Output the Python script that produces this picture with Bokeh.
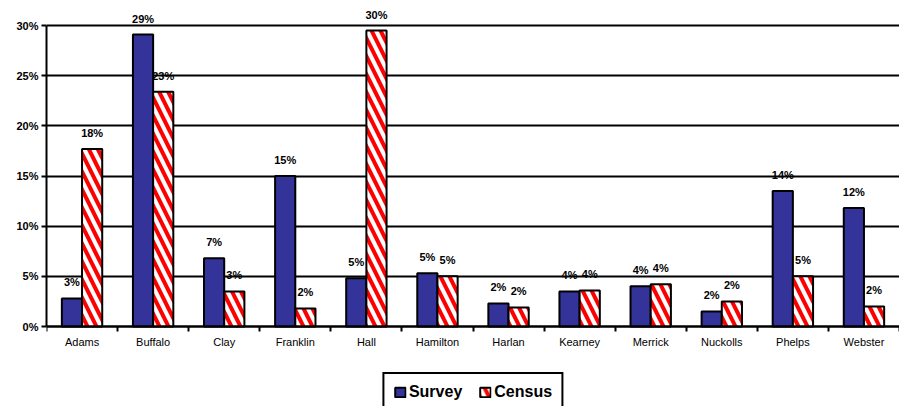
import numpy as np
from bokeh.plotting import figure
from bokeh.models import (ColumnDataSource, Range1d, FixedTicker, Legend, LegendItem)
from bokeh.transform import dodge
from bokeh.core.properties import value
from bokeh.embed import file_html
from bokeh.resources import INLINE

counties = ["Adams", "Buffalo", "Clay", "Franklin", "Hall", "Hamilton", "Harlan",
            "Kearney", "Merrick", "Nuckolls", "Phelps", "Webster"]
survey = [2.8, 29.1, 6.8, 15.0, 4.8, 5.3, 2.3, 3.5, 4.0, 1.5, 13.5, 11.8]
census = [17.7, 23.4, 3.5, 1.8, 29.5, 5.0, 1.9, 3.6, 4.2, 2.5, 5.0, 2.0]
survey_labels = ["3%", "29%", "7%", "15%", "5%", "5%", "2%", "4%", "4%", "2%", "14%", "12%"]
census_labels = ["18%", "23%", "3%", "2%", "30%", "5%", "2%", "4%", "4%", "2%", "5%", "2%"]
y_ticks = [0, 5, 10, 15, 20, 25, 30]

n = len(counties)
centers = [i + 0.5 for i in range(n)]
src = ColumnDataSource(dict(x=centers, survey=survey, census=census,
                            sl=survey_labels, cl=census_labels))

FONT = "Liberation Sans"
BW = 0.284
PX_PER_UNIT = 301 / 30.0

p = figure(frame_width=853, frame_height=408, output_backend="svg", toolbar_location=None,
           x_range=Range1d(0, n),
           y_range=Range1d(-86 / PX_PER_UNIT, 322 / PX_PER_UNIT),
           min_border_left=46, min_border_right=0, min_border_top=4, min_border_bottom=0)
p.outline_line_color = None
p.background_fill_color = "white"

r_s = p.vbar(x=dodge("x", -BW / 2, range=p.x_range), top="survey", width=BW, source=src,
             fill_color="#333399", line_color="black", line_width=2)
r_c = p.vbar(x=dodge("x", BW / 2, range=p.x_range), top="census", width=BW, source=src,
             fill_color="white", line_color="black", line_width=2,
             hatch_pattern="left_diagonal_line", hatch_color="#FF0000",
             hatch_scale=18, hatch_weight=4)

for col, lab, off in (("survey", "sl", -BW / 2), ("census", "cl", BW / 2)):
    p.text(x=dodge("x", off, range=p.x_range), y=col, text=lab, source=src,
           text_font=value(FONT), text_font_style="bold", text_font_size="11px",
           text_align="center", text_baseline="alphabetic", y_offset=-16,
           text_color="black")

# y axis
p.yaxis.ticker = FixedTicker(ticks=y_ticks)
p.yaxis.bounds = (0, 30)
p.yaxis.major_label_overrides = {t: f"{t}%" for t in y_ticks}
p.yaxis.axis_line_width = 2
p.yaxis.axis_line_color = "black"
p.yaxis.major_tick_line_width = 2
p.yaxis.major_tick_out = 5
p.yaxis.major_tick_in = 0
p.yaxis.minor_tick_line_color = None
p.yaxis.major_label_text_font = FONT
p.yaxis.major_label_text_font_style = "bold"
p.yaxis.major_label_text_font_size = "11px"
p.yaxis.major_label_text_color = "black"
p.yaxis.major_label_standoff = 3

# x axis, drawn at y = 0 inside the frame
p.xaxis.fixed_location = 0
p.xaxis.ticker = FixedTicker(ticks=centers, minor_ticks=list(range(n + 1)))
p.xaxis.major_label_overrides = {c: name for c, name in zip(centers, counties)}
p.xaxis.axis_line_width = 2
p.xaxis.axis_line_color = "black"
p.xaxis.major_tick_line_color = None
p.xaxis.major_tick_out = 0
p.xaxis.major_tick_in = 0
p.xaxis.minor_tick_line_color = "black"
p.xaxis.minor_tick_line_width = 2
p.xaxis.minor_tick_out = 5
p.xaxis.minor_tick_in = 0
p.xaxis.major_label_text_font = FONT
p.xaxis.major_label_text_font_size = "11px"
p.xaxis.major_label_text_color = "black"
p.xaxis.major_label_standoff = 4

p.xgrid.grid_line_color = None
p.ygrid.ticker = FixedTicker(ticks=y_ticks)
p.ygrid.grid_line_color = "black"
p.ygrid.grid_line_width = 2

legend = Legend(items=[LegendItem(label="Survey", renderers=[r_s]),
                       LegendItem(label="Census", renderers=[r_c])],
                orientation="horizontal", location="bottom_center")
legend.label_text_font = FONT
legend.label_text_font_style = "bold"
legend.label_text_font_size = "16px"
legend.label_text_color = "black"
legend.label_standoff = 3
legend.label_height = 16
legend.glyph_width = 13
legend.glyph_height = 12
legend.spacing = 16
legend.padding = 9
legend.margin = 0
legend.border_line_color = "black"
legend.border_line_alpha = 1.0
legend.border_line_width = 2
legend.background_fill_color = "white"
p.add_layout(legend, "center")

open("out.html", "w").write(file_html(p, INLINE))
